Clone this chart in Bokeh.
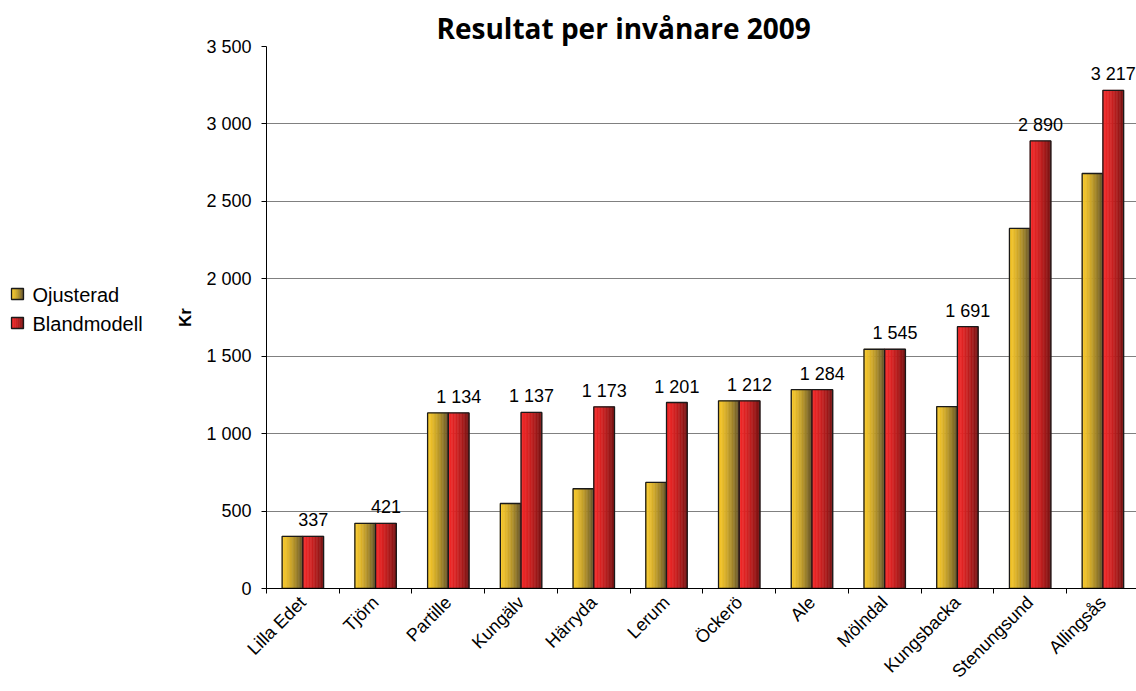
import numpy as np
from bokeh.plotting import figure
from bokeh.layouts import row
from bokeh.models import (ColumnDataSource, Range1d, FixedTicker, LabelSet)
from bokeh.core.properties import value
from bokeh.embed import file_html
from bokeh.resources import INLINE

# ---------------- data ----------------
categories = ["Lilla Edet", "Tjörn", "Partille", "Kungälv", "Härryda", "Lerum",
              "Öckerö", "Ale", "Mölndal", "Kungsbacka", "Stenungsund", "Allingsås"]
ojusterad = [337, 421, 1134, 549, 644, 685, 1212, 1284, 1545, 1175, 2325, 2680]
blandmodell = [337, 421, 1134, 1137, 1173, 1201, 1212, 1284, 1545, 1691, 2890, 3217]
series_names = ["Ojusterad", "Blandmodell"]
y_ticks = [0, 500, 1000, 1500, 2000, 2500, 3000, 3500]
y_tick_labels = ["0", "500", "1 000", "1 500", "2 000", "2 500", "3 000", "3 500"]
title_text = "Resultat per invånare 2009"
y_label = "Kr"

# ---------------- style ----------------
FONT = "Liberation Sans"
bar_w = 0.285
n_strips = 14
left_cols = [(247, 200, 42), (242, 40, 40)]
right_cols = [(95, 80, 42), (115, 18, 18)]
LEG_W = 170          # width of the legend column (px)
H = 691
TOP, BOTTOM = 46, 103


def mix(c0, c1, t):
    return "#%02x%02x%02x" % tuple(int(round(a + (b - a) * t)) for a, b in zip(c0, c1))


def grad(s, t):
    return mix(left_cols[s], right_cols[s], t ** 1.5)


n = len(categories)
idx = list(range(n))

# ================= main chart =================
main_w = 1136 - LEG_W
p = figure(width=main_w, height=H,
           x_range=Range1d(-0.5, 11.462), y_range=Range1d(0, 3500),
           output_backend="svg", toolbar_location=None,
           min_border_left=96, min_border_right=0,
           min_border_top=TOP, min_border_bottom=BOTTOM)
p.outline_line_color = None
p.background_fill_color = "white"
p.border_fill_color = "white"

p.title.text = title_text
p.title.text_font = "Open Sans"
p.title.text_font_size = "28px"
p.title.text_font_style = "bold"
p.title.text_color = "black"
p.title.align = "left"
p.title.offset = 170
p.title.standoff = 0

offsets = [-bar_w / 2, bar_w / 2]
for s, vals in enumerate([ojusterad, blandmodell]):
    xs, tops, cols = [], [], []
    for i in idx:
        for k in range(n_strips):
            t = (k + 0.5) / n_strips
            xs.append(i + offsets[s] - bar_w / 2 + (k + 0.5) * bar_w / n_strips)
            tops.append(vals[i])
            cols.append(grad(s, t))
    src = ColumnDataSource(dict(x=xs, top=tops, color=cols))
    p.vbar(x="x", top="top", bottom=0, width=bar_w / n_strips, source=src,
           fill_color="color", line_color="color", line_width=0.6)
    osrc = ColumnDataSource(dict(x=[i + offsets[s] for i in idx], top=vals))
    p.vbar(x="x", top="top", bottom=0, width=bar_w, source=osrc,
           fill_color=None, line_color="#1a1a1a", line_width=1.3)

lab_src = ColumnDataSource(dict(
    x=[i + bar_w / 2 for i in idx], y=blandmodell,
    text=[f"{v:,}".replace(",", " ") for v in blandmodell]))
p.add_layout(LabelSet(x="x", y="y", text="text", source=lab_src, y_offset=10,
                      text_align="center", text_baseline="alphabetic",
                      text_font=value(FONT), text_font_size=value("18px"),
                      text_color="black"))

xax = p.xaxis[0]
xax.ticker = FixedTicker(ticks=idx, minor_ticks=[i - 0.5 for i in range(n + 1)])
xax.major_label_overrides = {i: categories[i] for i in idx}
xax.major_label_orientation = np.pi / 4
xax.major_tick_line_color = None
xax.minor_tick_out = 5
xax.minor_tick_in = 0
xax.minor_tick_line_color = "black"
xax.axis_line_color = "black"
xax.major_label_text_font = FONT
xax.major_label_text_font_size = "18px"
xax.major_label_text_color = "black"
xax.major_label_standoff = 5

yax = p.yaxis[0]
yax.ticker = FixedTicker(ticks=y_ticks)
yax.major_label_overrides = {v: l for v, l in zip(y_ticks, y_tick_labels)}
yax.major_tick_out = 5
yax.major_tick_in = 0
yax.minor_tick_line_color = None
yax.axis_line_color = "black"
yax.major_label_text_font = FONT
yax.major_label_text_font_size = "18px"
yax.major_label_text_color = "black"
yax.major_label_standoff = 10
yax.axis_label = y_label
yax.axis_label_text_font = FONT
yax.axis_label_text_font_size = "17px"
yax.axis_label_text_font_style = "bold"
yax.axis_label_text_color = "black"
yax.axis_label_standoff = 8

p.xgrid.visible = False
p.ygrid.ticker = FixedTicker(ticks=y_ticks)
p.ygrid.grid_line_color = "#808080"
p.ygrid.grid_line_width = 1

# ================= legend column (units = page pixels) =================
lg = figure(width=LEG_W, height=H, x_range=Range1d(0, LEG_W),
            y_range=Range1d(H - BOTTOM, TOP),
            x_axis_type=None, y_axis_type=None, output_backend="svg",
            toolbar_location=None, title=None,
            min_border_left=0, min_border_right=0,
            min_border_top=TOP, min_border_bottom=BOTTOM)
lg.outline_line_color = None
lg.xgrid.visible = False
lg.ygrid.visible = False
lg.border_fill_color = "white"
lg.background_fill_color = "white"

sq_x, sq_w, sq_h = 11, 12, 11
sq_y = [288, 317]
txt_x = 32
txt_mid = [294, 323]
n_leg = 6
for s, name in enumerate(series_names):
    lx = [sq_x + (k + 0.5) * sq_w / n_leg for k in range(n_leg)]
    lc = [grad(s, (k + 0.5) / n_leg) for k in range(n_leg)]
    lg.rect(x=lx, y=[sq_y[s] + sq_h / 2] * n_leg, width=sq_w / n_leg, height=sq_h,
            fill_color=lc, line_color=lc, line_width=0.5)
    lg.rect(x=[sq_x + sq_w / 2], y=[sq_y[s] + sq_h / 2], width=sq_w, height=sq_h,
            fill_color=None, line_color="#1a1a1a", line_width=1.3)
    lg.text(x=[txt_x], y=[txt_mid[s]], text=[name], text_font=value(FONT),
            text_font_size="20px", text_color="black", text_baseline="middle",
            text_align="left")

layout = row(lg, p, spacing=0)
open("out.html", "w").write(file_html(layout, INLINE))
